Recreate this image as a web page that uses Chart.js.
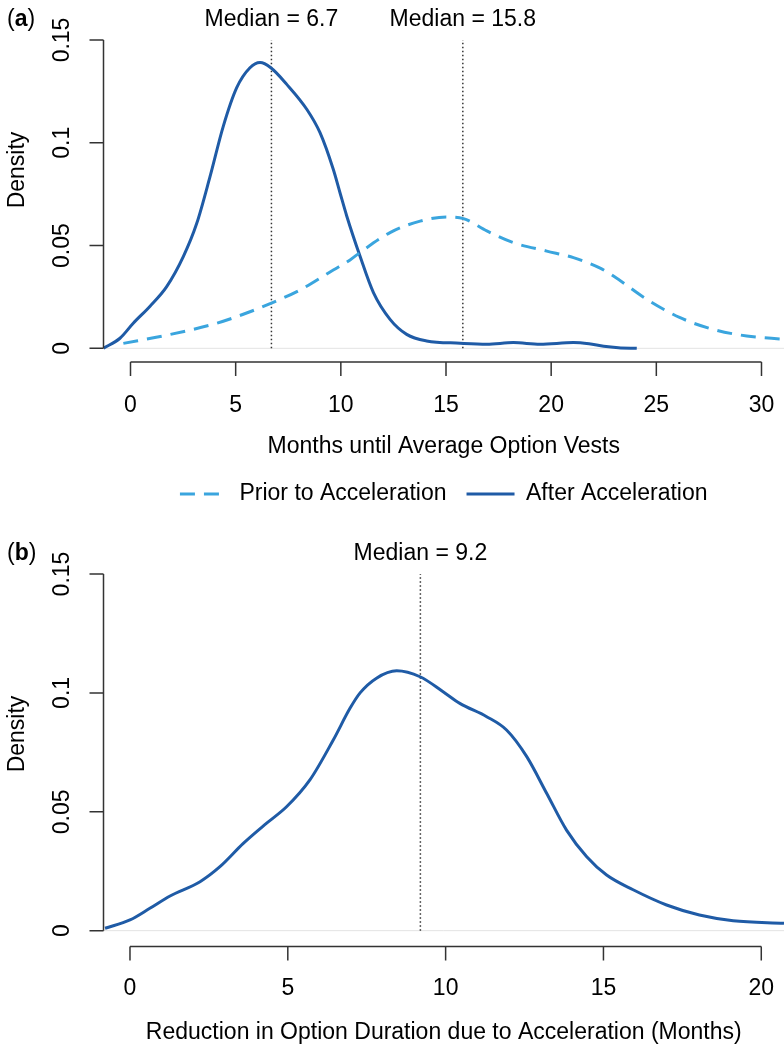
<!DOCTYPE html>
<html>
<head>
<meta charset="utf-8">
<script src="https://cdn.jsdelivr.net/npm/chart.js@4.4.1/dist/chart.umd.min.js"></script>
<style>
  html, body { margin: 0; padding: 0; background: #fff; }
  #wrap { position: relative; width: 784px; height: 1048px; }
  canvas { position: absolute; left: 0; }
</style>
</head>
<body>
<div id="wrap">
  <canvas id="chartA" width="784" height="524" style="top:0"></canvas>
  <canvas id="chartB" width="784" height="524" style="top:524px"></canvas>
</div>
<script>
// panel (a): months until average option vests
const afterX = [-1.29, -0.5, 0.13, 0.93, 1.72, 2.51, 3.15, 3.78, 4.41, 5.05, 5.68, 6.16, 6.67, 7.43, 8.38, 9.01, 9.64, 9.96, 10.28, 10.91, 11.55, 12.34, 13.13, 14.08, 15.67, 16.94, 18.2, 19.47, 21.06, 21.8, 22.5, 23.2, 24.07];
const afterY = [0, 0.0049, 0.0122, 0.0205, 0.030, 0.0446, 0.0608, 0.0835, 0.108, 0.1268, 0.1365, 0.139, 0.1365, 0.1284, 0.1163, 0.1049, 0.0871, 0.0757, 0.0644, 0.0449, 0.0271, 0.0141, 0.0068, 0.0036, 0.0025, 0.002, 0.0028, 0.002, 0.0028, 0.0022, 0.001, 0.0003, 0];
const priorX = [-0.34, 1.72, 4.1, 5.68, 6.67, 8.06, 9.64, 10.44, 10.91, 12.34, 13.77, 15.04, 15.83, 16.94, 18.2, 19.79, 21.06, 22.33, 22.96, 24.55, 26.13, 27.71, 29.3, 31.07];
const priorY = [0.0024, 0.0064, 0.0122, 0.0178, 0.0219, 0.0284, 0.0381, 0.043, 0.0466, 0.0563, 0.0619, 0.0639, 0.0631, 0.0571, 0.0514, 0.0473, 0.0441, 0.039, 0.0352, 0.0238, 0.0149, 0.0092, 0.006, 0.0044];
const mediansA = [6.7, 15.8];
const xTicksA = [0, 5, 10, 15, 20, 25, 30];

// panel (b): reduction in option duration
const reductionX = [-0.79, 0, 0.63, 1.27, 2.22, 2.85, 3.59, 4.33, 4.96, 5.7, 6.44, 6.97, 7.29, 7.81, 8.45, 9.19, 9.92, 10.45, 11.3, 11.93, 12.57, 13.2, 13.83, 14.47, 15.1, 15.94, 17.0, 18.04, 19.11, 20.72];
const reductionY = [0.001, 0.0045, 0.0094, 0.0146, 0.0206, 0.0269, 0.0367, 0.0452, 0.0521, 0.0634, 0.0802, 0.0935, 0.1000, 0.1062, 0.1093, 0.1068, 0.1005, 0.0956, 0.090, 0.0844, 0.0732, 0.0578, 0.0423, 0.0311, 0.0234, 0.0172, 0.0108, 0.0066, 0.0042, 0.0031];
const mediansB = [9.2];
const xTicksB = [0, 5, 10, 15, 20];

const yTicks = [0, 0.05, 0.1, 0.15];
const yTickLabels = ["0", "0.05", "0.1", "0.15"];

const FONT = '"Liberation Sans", Arial, sans-serif';
Chart.defaults.font.family = FONT;
Chart.defaults.color = "#000";

const solidBlue = "#1f5ba6";
const lightBlue = "#3aa5de";

const toPoints = (xs, ys) => xs.map((x, i) => ({ x: x, y: ys[i] }));

function medianSet(m) {
  return {
    label: "median",
    data: [{ x: m, y: 0 }, { x: m, y: 0.15 }],
    borderColor: "#333",
    borderWidth: 1.5,
    borderDash: [1.5, 2.5],
    pointRadius: 0,
    tension: 0
  };
}

const rStyleAxes = {
  id: "rStyleAxes",
  beforeDatasetsDraw(chart) {
    const { ctx, chartArea } = chart;
    const py = chart.scales.y.getPixelForValue(0);
    ctx.save();
    ctx.strokeStyle = "#e3e3e3";
    ctx.lineWidth = 1;
    ctx.beginPath();
    ctx.moveTo(chartArea.left, py);
    ctx.lineTo(chartArea.right, py);
    ctx.stroke();
    ctx.restore();
  },
  afterDraw(chart, args, opts) {
    const { ctx, chartArea } = chart;
    const xs = chart.scales.x, ys = chart.scales.y;
    const xTicks = opts.xTicks;
    ctx.save();
    ctx.strokeStyle = "#333";
    ctx.lineWidth = 1.5;
    ctx.beginPath();
    const yb = chartArea.bottom;
    ctx.moveTo(xs.getPixelForValue(xTicks[0]), yb);
    ctx.lineTo(xs.getPixelForValue(xTicks[xTicks.length - 1]), yb);
    xTicks.forEach(v => {
      const px = xs.getPixelForValue(v);
      ctx.moveTo(px, yb);
      ctx.lineTo(px, yb + 14);
    });
    const xl = chartArea.left;
    ctx.moveTo(xl, ys.getPixelForValue(yTicks[0]));
    ctx.lineTo(xl, ys.getPixelForValue(yTicks[yTicks.length - 1]));
    yTicks.forEach(v => {
      const py = ys.getPixelForValue(v);
      ctx.moveTo(xl, py);
      ctx.lineTo(xl - 14, py);
    });
    ctx.stroke();

    ctx.fillStyle = "#000";
    ctx.font = "23px " + FONT;
    ctx.textAlign = "center";
    ctx.textBaseline = "middle";
    yTicks.forEach((v, i) => {
      ctx.save();
      ctx.translate(63, ys.getPixelForValue(v));
      ctx.rotate(-Math.PI / 2);
      ctx.fillText(yTickLabels[i], 0, 0);
      ctx.restore();
    });

    ctx.save();
    ctx.translate(18, opts.densityY);
    ctx.rotate(-Math.PI / 2);
    ctx.fillText("Density", 0, 0);
    ctx.restore();

    opts.medians.forEach(m => {
      ctx.fillText("Median = " + m, xs.getPixelForValue(m), opts.labelY);
    });

    // panel letter, bold inside the brackets
    ctx.textAlign = "left";
    let px = 7;
    ctx.font = "23px " + FONT;
    ctx.fillText("(", px, opts.labelY);
    px += ctx.measureText("(").width;
    ctx.font = "bold 23px " + FONT;
    ctx.fillText(opts.letter, px, opts.labelY);
    px += ctx.measureText(opts.letter).width;
    ctx.font = "23px " + FONT;
    ctx.fillText(")", px, opts.labelY);
    ctx.restore();
  }
};

function xScale(min, max, ticks, title, height, tickPad, titlePad) {
  return {
    type: "linear",
    min: min,
    max: max,
    grid: { display: false, drawTicks: false },
    border: { display: false },
    ticks: {
      font: { size: 23 },
      color: "#000",
      padding: tickPad,
      maxRotation: 0,
      autoSkip: false,
      callback: v => String(v)
    },
    afterBuildTicks: s => { s.ticks = ticks.map(v => ({ value: v })); },
    afterFit: s => {
      s.height = height;
      s.paddingLeft = 0;
      s.paddingRight = 0;
    },
    title: {
      display: true,
      text: title,
      font: { size: 23 },
      color: "#000",
      padding: { top: 0, bottom: titlePad }
    }
  };
}

new Chart(document.getElementById("chartA"), {
  type: "line",
  data: {
    datasets: [
      {
        label: "Prior to Acceleration",
        data: toPoints(priorX, priorY),
        borderColor: lightBlue,
        backgroundColor: lightBlue,
        borderWidth: 3,
        borderDash: [15, 9],
        pointRadius: 0,
        pointStyle: "line",
        cubicInterpolationMode: "monotone"
      },
      {
        label: "After Acceleration",
        data: toPoints(afterX, afterY),
        borderColor: solidBlue,
        backgroundColor: solidBlue,
        borderWidth: 3,
        pointRadius: 0,
        pointStyle: "line",
        cubicInterpolationMode: "monotone"
      },
      ...mediansA.map(medianSet)
    ]
  },
  options: {
    responsive: false,
    animation: false,
    layout: { padding: { top: 26.2, left: 103.5, right: 0, bottom: 8.5 } },
    scales: {
      x: xScale(-1.284, 31.07, xTicksA, "Months until Average Option Vests", 100.4, 30, 1.7),
      y: { type: "linear", display: false, min: -0.0067, max: 0.1567 }
    },
    plugins: {
      tooltip: { enabled: false },
      legend: {
        position: "bottom",
        labels: {
          font: { size: 23 },
          color: "#000",
          usePointStyle: true,
          pointStyle: "line",
          pointStyleWidth: 48,
          padding: 20,
          generateLabels: chart =>
            Chart.defaults.plugins.legend.labels.generateLabels(chart)
              .filter(item => item.text !== "median")
              .map(item => {
                const ds = chart.data.datasets[item.datasetIndex];
                item.lineDash = ds.borderDash || [];
                item.lineWidth = ds.borderWidth;
                return item;
              })
        }
      },
      rStyleAxes: { xTicks: xTicksA, medians: mediansA, letter: "a", labelY: 19.5, densityY: 170 }
    }
  },
  plugins: [rStyleAxes]
});

new Chart(document.getElementById("chartB"), {
  type: "line",
  data: {
    datasets: [
      {
        label: "Reduction",
        data: toPoints(reductionX, reductionY),
        borderColor: solidBlue,
        borderWidth: 3,
        pointRadius: 0,
        cubicInterpolationMode: "monotone"
      },
      ...mediansB.map(medianSet)
    ]
  },
  options: {
    responsive: false,
    animation: false,
    layout: { padding: { top: 34.1, left: 103.5, right: 0, bottom: 0 } },
    scales: {
      x: xScale(-0.839, 20.72, xTicksB, "Reduction in Option Duration due to Acceleration (Months)", 101.4, 28.6, 1.2),
      y: { type: "linear", display: false, min: -0.0067, max: 0.1567 }
    },
    plugins: {
      tooltip: { enabled: false },
      legend: { display: false },
      rStyleAxes: { xTicks: xTicksB, medians: mediansB, letter: "b", labelY: 29.7, densityY: 210 }
    }
  },
  plugins: [rStyleAxes]
});
</script>
</body>
</html>
